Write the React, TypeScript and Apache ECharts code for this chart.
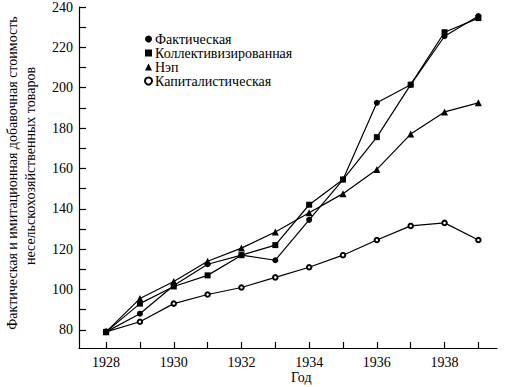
import React, { useEffect, useRef } from "react";
import * as echarts from "echarts";

const years = [1928, 1929, 1930, 1931, 1932, 1933, 1934, 1935, 1936, 1937, 1938, 1939];
const actual = [79, 88, 102, 112.5, 117, 114.5, 134.5, 154.5, 192.5, 201.5, 225.5, 235.5];
const collective = [79, 93, 101.5, 107, 117, 122, 142, 154.5, 175.5, 201.5, 227.5, 234.5];
const nep = [79, 95.5, 104, 114, 120.5, 128.5, 138, 147.5, 159.5, 177, 188, 192.5];
const capitalist = [79, 84, 93, 97.5, 101, 106, 111, 117, 124.5, 131.5, 133, 124.5];

const seriesNames = ["Фактическая", "Коллективизированная", "Нэп", "Капиталистическая"];
const xTickValues = [1928, 1929, 1930, 1931, 1932, 1933, 1934, 1935, 1936, 1937, 1938, 1939];
const xLabelValues = [1928, 1930, 1932, 1934, 1936, 1938];
const yTickValues = [80, 90, 100, 110, 120, 130, 140, 150, 160, 170, 180, 190, 200, 210, 220, 230, 240];
const yLabelValues = [80, 100, 120, 140, 160, 180, 200, 220, 240];
const xTitle = "Год";
const yTitle1 = "Фактическая и имитационная добавочная стоимость";
const yTitle2 = "несельскохозяйственных товаров";

const FONT = "Liberation Serif, DejaVu Serif, serif";

export default function App() {
  const ref = useRef<HTMLDivElement>(null);
  useEffect(() => {
    if (!ref.current) return;
    const chart = echarts.init(ref.current, undefined, { renderer: "svg" });
    const mk = (vals: number[]) => years.map((y, i) => [y, vals[i]]);
    const lineStyle = { color: "#000", width: 1.2 };
    chart.setOption({
      animation: false,
      backgroundColor: "#fff",
      grid: { left: 79, right: 9, top: 7, bottom: 39 },
      legend: {
        orient: "vertical",
        left: 139,
        top: 27,
        itemWidth: 7,
        itemHeight: 7,
        itemGap: 0,
        textStyle: { fontFamily: FONT, fontSize: 14, color: "#000", lineHeight: 13.5, padding: [0, 0, 0, -2] },
        data: [
          { name: seriesNames[0], icon: "circle" },
          { name: seriesNames[1], icon: "rect" },
          { name: seriesNames[2], icon: "triangle" },
          { name: seriesNames[3], icon: "emptyCircle" },
        ],
      },
      xAxis: {
        type: "value",
        min: 1927.2,
        max: 1939.55,
        splitLine: { show: false },
        axisLine: { show: true, lineStyle: { color: "#000", width: 1.2 } },
        axisTick: { show: true, inside: true, length: 6, customValues: xTickValues, lineStyle: { color: "#000", width: 1.2 } },
        axisLabel: { customValues: xLabelValues, formatter: (v: number) => String(v), fontFamily: FONT, fontSize: 14, color: "#000", margin: 7 },
      },
      yAxis: {
        type: "value",
        min: 71,
        max: 240,
        splitLine: { show: false },
        axisLine: { show: true, lineStyle: { color: "#000", width: 1.2 } },
        axisTick: { show: true, inside: true, length: 7, customValues: yTickValues, lineStyle: { color: "#000", width: 1.2 } },
        axisLabel: { customValues: yLabelValues, formatter: (v: number) => String(v), fontFamily: FONT, fontSize: 14, color: "#000", margin: 6 },
      },
      graphic: [
        { type: "text", left: 291, top: 370, style: { text: xTitle, fontFamily: FONT, fontSize: 14, fill: "#000" } },
        {
          type: "text", x: 12, y: 173, rotation: Math.PI / 2,
          style: { text: yTitle1, fontFamily: FONT, fontSize: 14, fill: "#000", align: "center", verticalAlign: "middle" },
        },
        {
          type: "text", x: 30, y: 166, rotation: Math.PI / 2,
          style: { text: yTitle2, fontFamily: FONT, fontSize: 14, fill: "#000", align: "center", verticalAlign: "middle" },
        },
      ],
      series: [
        { name: seriesNames[3], type: "line", data: mk(capitalist), symbol: "emptyCircle", symbolSize: 4.5, lineStyle, itemStyle: { color: "#000", borderWidth: 1 } },
        { name: seriesNames[2], type: "line", data: mk(nep), symbol: "triangle", symbolSize: 7, lineStyle, itemStyle: { color: "#000" } },
        { name: seriesNames[1], type: "line", data: mk(collective), symbol: "rect", symbolSize: 6, lineStyle, itemStyle: { color: "#000" } },
        { name: seriesNames[0], type: "line", data: mk(actual), symbol: "circle", symbolSize: 6, lineStyle, itemStyle: { color: "#000" } },
      ],
    });
    return () => chart.dispose();
  }, []);
  return <div ref={ref} style={{ width: 506, height: 387, position: "absolute", left: 0, top: 0 }} />;
}
